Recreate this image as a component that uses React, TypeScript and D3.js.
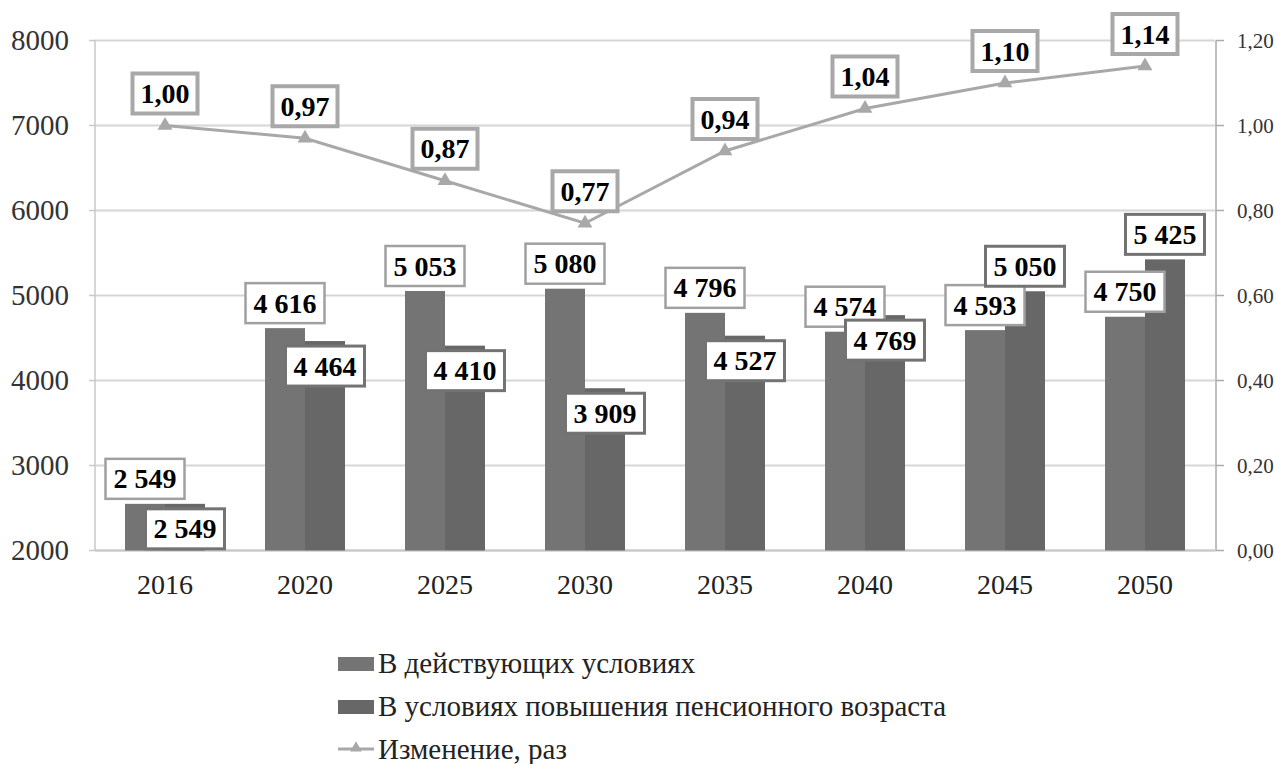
import React from "react";
import * as d3 from "d3";

const categories = ["2016", "2020", "2025", "2030", "2035", "2040", "2045", "2050"];
const seriesCurrent = [2549, 4616, 5053, 5080, 4796, 4574, 4593, 4750];
const seriesRaised = [2549, 4464, 4410, 3909, 4527, 4769, 5050, 5425];
const changeRatio = [1.0, 0.97, 0.87, 0.77, 0.94, 1.04, 1.1, 1.14];
const raisedLabelInside = [true, true, true, true, true, true, false, false];
const leftTicks = [2000, 3000, 4000, 5000, 6000, 7000, 8000];
const rightTicks = [0, 0.2, 0.4, 0.6, 0.8, 1.0, 1.2];
const legendLabels = [
  "В действующих условиях",
  "В условиях повышения пенсионного возраста",
  "Изменение, раз",
];

const W = 1276;
const H = 764;
const left = 95;
const right = 1215;
const top = 40.5;
const bottom = 550.5;
const FONT = "'Liberation Serif', 'Times New Roman', serif";
const C1 = "#747474";
const C2 = "#676767";
const LINE = "#a8a8a8";
const GRID = "#d6d6d6";

const fmtInt = (v: number) => {
  const s = String(v);
  return s.length > 3 ? s.slice(0, s.length - 3) + " " + s.slice(s.length - 3) : s;
};
const fmtRatio = (v: number) => v.toFixed(2).replace(".", ",");

const LABEL_FS = 28;
const textWidth = (s: string, fs: number) => {
  let w = 0;
  for (const ch of s) {
    if (ch === " " || ch === ",") w += 0.25;
    else w += 0.5;
  }
  return w * fs;
};

function LabelBox({ cx, y, text, stroke, sw }: { cx: number; y: number; text: string; stroke: string; sw: number }) {
  const w = textWidth(text, LABEL_FS) + 16;
  const h = 40;
  return (
    <g>
      <rect x={cx - w / 2} y={y} width={w} height={h} fill="#fff" stroke={stroke} strokeWidth={sw} />
      <text
        x={cx}
        y={y + h / 2 + LABEL_FS * 0.34}
        textAnchor="middle"
        fontFamily={FONT}
        fontWeight="bold"
        fontSize={LABEL_FS}
        fill="#000"
      >
        {text}
      </text>
    </g>
  );
}

export default function App() {
  const x = d3.scaleBand<string>().domain(categories).range([left, right]).padding(0);
  const inner = d3.scaleBand<string>().domain(["a", "b"]).range([30, 110]).padding(0);
  const yL = d3.scaleLinear().domain([2000, 8000]).range([bottom, top]);
  const yR = d3.scaleLinear().domain([0, 1.2]).range([bottom, top]);
  const bw = inner.bandwidth();

  const cx = (c: string) => (x(c) as number) + x.bandwidth() / 2;
  const linePath = d3
    .line<number>()
    .x((_, i) => cx(categories[i]))
    .y((d) => yR(d))(changeRatio) as string;
  const tri = d3.symbol().type(d3.symbolTriangle).size(95)() as string;
  const triSmall = d3.symbol().type(d3.symbolTriangle).size(60)() as string;

  return (
    <svg width={W} height={H} style={{ position: "absolute", left: 0, top: 0, background: "#fff" }}>
      <rect x={0} y={0} width={W} height={H} fill="#fff" />
      {leftTicks.map((t) => (
        <line key={t} x1={left} x2={right} y1={yL(t)} y2={yL(t)} stroke={GRID} strokeWidth={2} />
      ))}
      <line x1={left} x2={left} y1={top} y2={bottom} stroke="#c8c8c8" strokeWidth={1.5} />
      {leftTicks.map((t) => (
        <line key={"lt" + t} x1={left - 6} x2={left} y1={yL(t)} y2={yL(t)} stroke="#c8c8c8" strokeWidth={1.5} />
      ))}
      {leftTicks.map((t) => (
        <text
          key={"ll" + t}
          x={69}
          y={yL(t) + 9.5}
          textAnchor="end"
          fontFamily={FONT}
          fontSize={29}
          fill="#333"
        >
          {t}
        </text>
      ))}
      <line x1={right + 1} x2={right + 1} y1={top} y2={bottom} stroke="#aaa" strokeWidth={1.5} />
      {rightTicks.map((t) => (
        <line key={"rt" + t} x1={right + 1} x2={right + 9} y1={yR(t)} y2={yR(t)} stroke="#aaa" strokeWidth={1.5} />
      ))}
      {rightTicks.map((t) => (
        <text
          key={"rl" + t}
          x={1237}
          y={yR(t) + 7}
          textAnchor="start"
          fontFamily={FONT}
          fontSize={21}
          fill="#333"
        >
          {fmtRatio(t)}
        </text>
      ))}
      <line x1={left} x2={right + 1} y1={bottom} y2={bottom} stroke="#c8c8c8" strokeWidth={2} />
      {categories.map((c) => (
        <text
          key={"x" + c}
          x={cx(c)}
          y={594}
          textAnchor="middle"
          fontFamily={FONT}
          fontSize={28}
          fill="#222"
        >
          {c}
        </text>
      ))}
      {categories.map((c, i) => (
        <g key={"b" + c}>
          <rect
            x={(x(c) as number) + (inner("a") as number)}
            y={yL(seriesCurrent[i])}
            width={bw}
            height={yL(2000) - yL(seriesCurrent[i])}
            fill={C1}
          />
          <rect
            x={(x(c) as number) + (inner("b") as number)}
            y={yL(seriesRaised[i])}
            width={bw}
            height={yL(2000) - yL(seriesRaised[i])}
            fill={C2}
          />
        </g>
      ))}
      <path d={linePath} fill="none" stroke={LINE} strokeWidth={3} />
      {changeRatio.map((v, i) => (
        <path
          key={"m" + i}
          d={tri}
          transform={`translate(${cx(categories[i])},${yR(v)})`}
          fill={LINE}
        />
      ))}
      {categories.map((c, i) => {
        const c1 = (x(c) as number) + (inner("a") as number) + bw / 2;
        return (
          <LabelBox
            key={"l1" + c}
            cx={c1}
            y={yL(seriesCurrent[i]) - 5 - 40}
            text={fmtInt(seriesCurrent[i])}
            stroke="#a0a0a0"
            sw={2.5}
          />
        );
      })}
      {categories.map((c, i) => {
        const c2 = (x(c) as number) + (inner("b") as number) + bw / 2;
        const yy = raisedLabelInside[i] ? yL(seriesRaised[i]) + 5 : yL(seriesRaised[i]) - 5 - 40;
        return (
          <LabelBox
            key={"l2" + c}
            cx={c2}
            y={yy}
            text={fmtInt(seriesRaised[i])}
            stroke="#737373"
            sw={3}
          />
        );
      })}
      {changeRatio.map((v, i) => (
        <LabelBox
          key={"l3" + i}
          cx={cx(categories[i])}
          y={yR(v) - 12 - 40}
          text={fmtRatio(v)}
          stroke="#a8a8a8"
          sw={4}
        />
      ))}
      <rect x={338} y={657} width={36} height={14} fill={C1} />
      <text x={378} y={673} fontFamily={FONT} fontSize={29} fill="#222">
        {legendLabels[0]}
      </text>
      <rect x={338} y={700} width={36} height={14} fill={C2} />
      <text x={378} y={716} fontFamily={FONT} fontSize={29} fill="#222">
        {legendLabels[1]}
      </text>
      <line x1={338} x2={374} y1={749} y2={749} stroke={LINE} strokeWidth={3} />
      <path d={triSmall} transform="translate(356,748)" fill={LINE} />
      <text x={378} y={759} fontFamily={FONT} fontSize={29} fill="#222">
        {legendLabels[2]}
      </text>
    </svg>
  );
}
